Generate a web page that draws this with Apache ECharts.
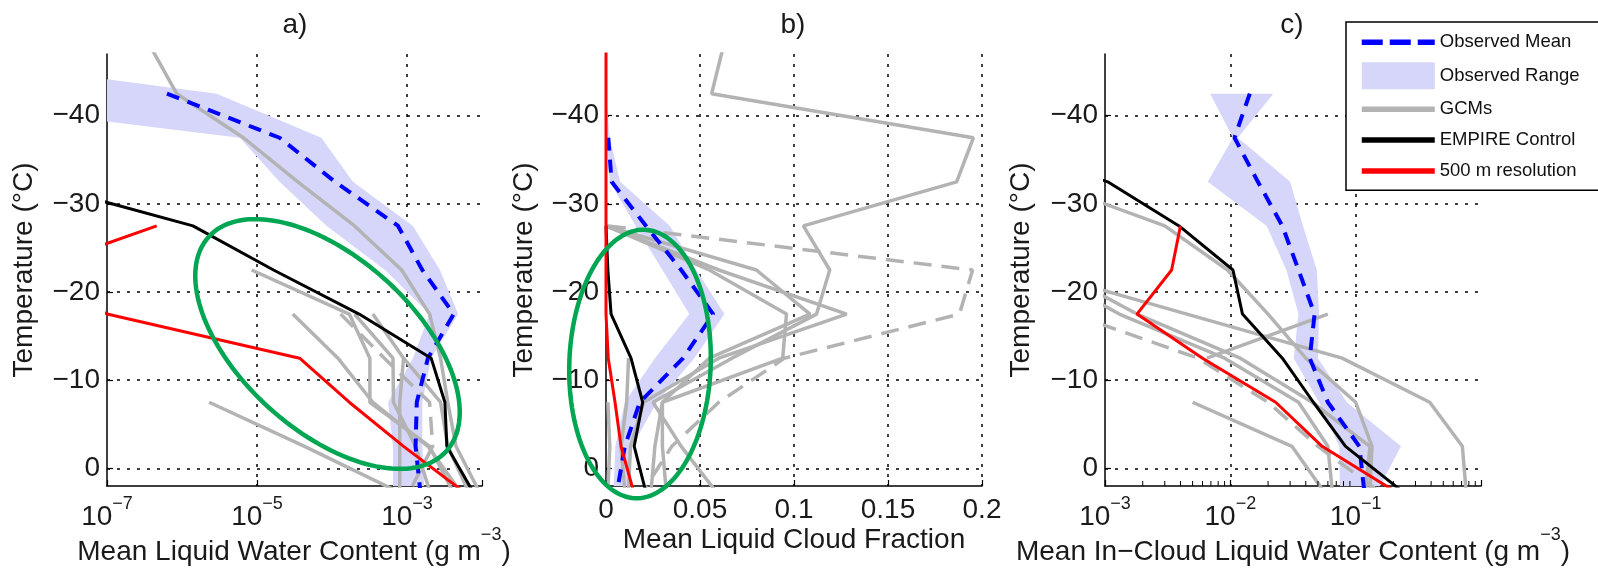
<!DOCTYPE html>
<html>
<head>
<meta charset="utf-8">
<script src="https://cdn.jsdelivr.net/npm/echarts@6/dist/echarts.min.js"></script>
<style>
html,body{margin:0;padding:0;background:#fff;}
#chart{width:1598px;height:574px;}
</style>
</head>
<body>
<div id="chart"></div>
<script>
// ---------------- DATA ----------------
// temperature bin centres (°C); every series below is listed at these levels
const TEMPS = [-47.5, -42.5, -37.5, -32.5, -27.5, -22.5, -17.5, -12.5, -7.5, -2.5, 2.5];

// a) Mean liquid water content (g m^-3)
const lwcObsMean = [null, 6.3e-7, 2.0e-5, 1.1e-4, 7.6e-4, 1.6e-3, 4.2e-3, 1.9e-3, 1.35e-3, 1.3e-3, 1.5e-3];
const lwcObsMin  = [1e-10, 1e-10, 5.9e-6, 2.0e-5, 8.5e-5, 5.1e-4, 2.0e-3, 1.2e-3, 5.6e-4, 6.5e-4, 6.5e-4];
const lwcObsMax  = [1e-10, 2.9e-6, 7.2e-5, 1.9e-4, 1.2e-3, 2.75e-3, 4.8e-3, 2.1e-3, 1.6e-3, 1.6e-3, 1.7e-3];
const lwcControl = [null, null, null, 1.0e-8, 1.4e-6, 1.66e-5, 2.3e-4, 2.1e-3, 3.2e-3, 3.4e-3, 7.4e-3];
const lwc500m    = [null, null, null, null, 4.6e-7, 1.0e-8, 1.0e-7, 3.7e-5, 1.7e-4, 9.0e-4, 5.4e-3];
const lwcGCMs = [
  [4e-7, 8.5e-7, 6.6e-6, 3.5e-5, 2.0e-4, 8.5e-4, 2.0e-3, 2.8e-3, 3.5e-3, 4.5e-3, 9.0e-3],
  [null, null, null, null, null, 8.5e-6, 1.7e-4, 3.2e-4, 3.2e-4, 2.0e-3, 4.0e-3],
  [null, null, null, null, null, null, 3.0e-5, 1.2e-4, 3.5e-4, 1.9e-3, 5.0e-3],
  [null, null, null, null, null, null, null, null, 2.3e-6, 4.3e-5, 7.0e-4],
  [null, null, null, null, null, null, 2.0e-4, 6.5e-4, 6.6e-4, 1.3e-3, 2.0e-3],
  [null, null, null, null, null, null, null, 9.0e-4, 8.0e-4, 8.0e-4, 8.0e-4],
  [null, null, null, null, null, null, 3.5e-4, 9.0e-4, 2.8e-3, 3.5e-3, 6.5e-3]
];
const lwcGCMDashed = [null, null, null, null, null, null, 1.3e-4, 5.0e-4, 2.0e-3, 2.2e-3, 1.1e-3];

// b) Mean liquid cloud fraction
const cfObsMean = [null, null, 0.0012, 0.003, 0.0213, 0.040, 0.057, 0.041, 0.018, 0.010, 0.006];
const cfObsMin  = [null, 0, 0.0005, 0.002, 0.0158, 0.030, 0.0443, 0.026, 0.010, 0.005, 0.004];
const cfObsMax  = [null, 0, 0.002, 0.0075, 0.034, 0.048, 0.063, 0.047, 0.027, 0.014, 0.012];
const cfControl = [null, null, null, null, 0.0, 0.001, 0.0027, 0.0133, 0.0195, 0.015, 0.021];
const cf500m    = [0, 0, 0, 0, 0, 0, 0, 0.0012, 0.0048, 0.008, 0.0145];
const cfGCMs = [
  [0.062, 0.0562, 0.1954, 0.1865, 0.105, 0.119, 0.112, 0.067, 0.025, 0.040, 0.058],
  [null, null, null, null, 0.0, 0.080, 0.1085, 0.055, 0.030, 0.030, 0.032],
  [null, null, null, null, 0.0, 0.055, 0.096, 0.094, 0.030, 0.026, 0.024],
  [null, null, null, null, 0.0, 0.060, 0.128, 0.060, 0.020, 0.013, 0.012],
  [null, null, null, null, null, null, null, 0.012, 0.011, 0.008, 0.010],
  [null, null, null, null, null, null, null, null, 0.001, 0.002, 0.001]
];
const cfGCMDashed = [null, null, null, null, 0.001, 0.195, 0.188, 0.095, 0.060, 0.035, 0.020];

// c) Mean in-cloud liquid water content (g m^-3)
const iclObsMean = [null, 0.0143, 0.0108, 0.0166, 0.026, 0.035, 0.047, 0.043, 0.060, 0.107, 0.117];
const iclObsMin  = [null, 0.0069, 0.0105, 0.0066, 0.0195, 0.028, 0.035, 0.032, 0.051, 0.074, 0.075];
const iclObsMax  = [null, 0.022, 0.0115, 0.030, 0.038, 0.049, 0.051, 0.050, 0.085, 0.23, 0.15];
const iclControl = [null, null, 0.0001, 0.00105, 0.0039, 0.0105, 0.0125, 0.026, 0.046, 0.083, 0.23];
const icl500m    = [null, null, null, null, 0.0040, 0.0034, 0.0018, 0.006, 0.023, 0.054, 0.20];
const iclGCMs = [
  [null, null, null, 0.00033, 0.003, 0.0095, 0.020, 0.040, 0.100, 0.135, 0.130],
  [null, null, null, null, null, 0.00026, 0.0045, 0.078, 0.39, 0.71, 0.76],
  [null, null, null, null, null, 0.0004, 0.0018, 0.012, 0.045, 0.13, 0.12],
  [null, null, null, null, null, 0.0003, 0.0013, 0.009, 0.035, 0.060, 0.065],
  [null, null, null, null, null, null, 0.060, 0.0065, null, null, null],
  [null, null, null, null, null, null, null, null, 0.005, 0.031, 0.055]
];
const iclGCMDashed = [null, null, null, null, null, null, 0.00055, 0.0055, 0.020, 0.050, 0.15];

// texts
const PANEL_TITLES = ['a)', 'b)', 'c)'];
const X_NAMES = ['Mean Liquid Water Content (g m', 'Mean Liquid Cloud Fraction', 'Mean In\u2212Cloud Liquid Water Content (g m'];
const Y_NAME = 'Temperature (\u00B0C)';
const LEGEND_NAMES = ['Observed Mean', 'Observed Range', 'GCMs', 'EMPIRE Control', '500 m resolution'];

// ---------------- STYLE ----------------
const FONT = "'Liberation Sans', Arial, Helvetica, sans-serif";
const TXT = '#1a1a1a';
const C_BLUE = '#0000ff', C_RANGE = '#d6d6fb', C_GRAY = '#b3b3b3', C_BLACK = '#000000', C_RED = '#ff0000', C_GREEN = '#00a651';
const GRID_LINE = {color: '#000', width: 1.5, type: [3, 7]};

const lg = v => Math.log10(v);
const ident = v => v;
const TF = [lg, ident, lg];

function pairs(vals, tf) {
  const out = [];
  vals.forEach((v, i) => { if (v !== null && v !== undefined) out.push([tf(v), TEMPS[i]]); });
  return out;
}
function lineSeries(name, vals, p, style, z) {
  return {
    type: 'line', name, xAxisIndex: p, yAxisIndex: p, data: pairs(vals, TF[p]),
    symbol: 'none', showSymbol: false, silent: true, clip: true, z,
    lineStyle: style, itemStyle: {color: style.color}, emphasis: {disabled: true}
  };
}
function clipPoly(pts, x0, y0, x1, y1) {
  const edges = [
    [p => p[0] >= x0, (a, b) => { const t = (x0 - a[0]) / (b[0] - a[0]); return [x0, a[1] + t * (b[1] - a[1])]; }],
    [p => p[0] <= x1, (a, b) => { const t = (x1 - a[0]) / (b[0] - a[0]); return [x1, a[1] + t * (b[1] - a[1])]; }],
    [p => p[1] >= y0, (a, b) => { const t = (y0 - a[1]) / (b[1] - a[1]); return [a[0] + t * (b[0] - a[0]), y0]; }],
    [p => p[1] <= y1, (a, b) => { const t = (y1 - a[1]) / (b[1] - a[1]); return [a[0] + t * (b[0] - a[0]), y1]; }]
  ];
  let out = pts;
  for (const [inside, inter] of edges) {
    const inp = out; out = [];
    if (!inp.length) break;
    for (let i = 0; i < inp.length; i++) {
      const cur = inp[i], prev = inp[(i + inp.length - 1) % inp.length];
      const ci = inside(cur), pi = inside(prev);
      if (ci) { if (!pi) out.push(inter(prev, cur)); out.push(cur); }
      else if (pi) out.push(inter(prev, cur));
    }
  }
  return out;
}
function bandSeries(lo, hi, p) {
  const tf = TF[p];
  const idx = TEMPS.map((t, i) => i).filter(i => lo[i] !== null && hi[i] !== null);
  return {
    type: 'custom', name: 'Observed Range', xAxisIndex: p, yAxisIndex: p, z: 1, silent: true,
    itemStyle: {color: C_RANGE},
    data: [[tf(hi[idx[0]]), TEMPS[idx[0]]]],
    renderItem: (params, api) => {
      const up = idx.map(i => api.coord([tf(hi[i]), TEMPS[i]]));
      const dn = idx.slice().reverse().map(i => api.coord([tf(lo[i]), TEMPS[i]]));
      const cs = params.coordSys;
      const pts = clipPoly(up.concat(dn), cs.x, cs.y, cs.x + cs.width, cs.y + cs.height);
      return {type: 'polygon', shape: {points: pts}, style: {fill: C_RANGE, stroke: null}};
    }
  };
}

const S_MEAN = {color: C_BLUE, width: 4, type: [13, 9]};
const S_GRAY = {color: C_GRAY, width: 3.5};
const S_GRAYD = {color: C_GRAY, width: 3.5, type: [18, 10]};
const S_BLACK = {color: C_BLACK, width: 3};
const S_RED = {color: C_RED, width: 3};

const panels = [
  {mean: lwcObsMean, lo: lwcObsMin, hi: lwcObsMax, ctl: lwcControl, r500: lwc500m, gcms: lwcGCMs, dashed: lwcGCMDashed},
  {mean: cfObsMean, lo: cfObsMin, hi: cfObsMax, ctl: cfControl, r500: cf500m, gcms: cfGCMs, dashed: cfGCMDashed},
  {mean: iclObsMean, lo: iclObsMin, hi: iclObsMax, ctl: iclControl, r500: icl500m, gcms: iclGCMs, dashed: iclGCMDashed}
];

const series = [];
panels.forEach((P, p) => {
  series.push(bandSeries(P.lo, P.hi, p));
  P.gcms.forEach(g => series.push(lineSeries('GCMs', g, p, S_GRAY, 2)));
  series.push(lineSeries('GCMs', P.dashed, p, S_GRAYD, 2));
  series.push(lineSeries('Observed Mean', P.mean, p, S_MEAN, 3));
  series.push(lineSeries('EMPIRE Control', P.ctl, p, S_BLACK, 4));
  series.push(lineSeries('500 m resolution', P.r500, p, S_RED, 5));
});

// log-axis minor ticks on panel c (2..9 x 10^n)
const minorC = [];
for (let n = -3; n <= -1; n++) for (let k = 2; k <= 9; k++) minorC.push([lg(k * Math.pow(10, n)), 2]);
series.push({
  type: 'custom', xAxisIndex: 2, yAxisIndex: 2, silent: true, z: 6, data: minorC,
  renderItem: (params, api) => {
    const pt = api.coord([api.value(0), api.value(1)]);
    return {type: 'line', shape: {x1: pt[0], y1: pt[1], x2: pt[0], y2: pt[1] - 5}, style: {stroke: '#000', lineWidth: 1}};
  }
});

// ---------------- AXES ----------------
const GRIDS = [
  {left: 107, top: 54, width: 375, height: 432},
  {left: 606, top: 54, width: 376, height: 432},
  {left: 1105, top: 54, width: 376, height: 432}
];
const supRich = {
  b: {fontSize: 28, fontFamily: FONT, color: TXT, lineHeight: 36, verticalAlign: 'bottom'},
  s: {fontSize: 18, fontFamily: FONT, color: TXT, lineHeight: 18, verticalAlign: 'top'}
};
const logFmt = (maxV) => v => (Math.abs(v - maxV) < 1e-9) ? '' : '{b|10}{s|\u2212' + Math.round(Math.abs(v)) + '}';
const axisLineS = {show: true, onZero: false, lineStyle: {color: '#000', width: 1.5}};
const tickS = {show: true, inside: true, length: 6, lineStyle: {color: '#000', width: 1.2}};

const xAxes = [
  {gridIndex: 0, type: 'value', min: -7, max: -2, interval: 2,
   axisLine: axisLineS, axisTick: tickS,
   axisLabel: {margin: 9, formatter: logFmt(-2), rich: supRich},
   splitLine: {show: true, showMinLine: false, showMaxLine: false, lineStyle: GRID_LINE}},
  {gridIndex: 1, type: 'value', min: 0, max: 0.2, interval: 0.05,
   axisLine: axisLineS, axisTick: tickS,
   axisLabel: {margin: 10, fontSize: 28, lineHeight: 28, fontFamily: FONT, color: TXT,
     formatter: v => String(Math.round(v * 100) / 100)},
   splitLine: {show: true, showMinLine: false, showMaxLine: true, lineStyle: GRID_LINE}},
  {gridIndex: 2, type: 'value', min: -3, max: 0, interval: 1,
   axisLine: axisLineS, axisTick: tickS,
   axisLabel: {margin: 9, formatter: logFmt(0), rich: supRich},
   splitLine: {show: true, showMinLine: false, showMaxLine: false, lineStyle: GRID_LINE}}
];
const yAxes = [0, 1, 2].map(p => ({
  gridIndex: p, type: 'value', min: -47, max: 2, inverse: true,
  axisLine: axisLineS, axisTick: tickS,
  axisLabel: {margin: 7, fontSize: 28, fontFamily: FONT, color: TXT, showMinLabel: false, showMaxLabel: false,
    formatter: v => v < 0 ? '\u2212' + Math.abs(v) : String(v)},
  splitLine: {show: true, showMinLine: false, showMaxLine: false, lineStyle: GRID_LINE}
}));

// ---------------- ANNOTATIONS ----------------
function ellipsePts(cx, cy, a, b, deg) {
  const th = deg * Math.PI / 180, pts = [];
  for (let i = 0; i < 144; i++) {
    const t = 2 * Math.PI * i / 144, x = a * Math.cos(t), y = b * Math.sin(t);
    pts.push([cx + x * Math.cos(th) - y * Math.sin(th), cy + x * Math.sin(th) + y * Math.cos(th)]);
  }
  return pts;
}
const textStyle = (extra) => Object.assign({fill: TXT, font: '28px ' + FONT, textAlign: 'center', textVerticalAlign: 'middle', align: 'center', verticalAlign: 'middle'}, extra);
const nameRich = {
  t: {fontSize: 28, fontFamily: FONT, fill: TXT, lineHeight: 40, verticalAlign: 'bottom'},
  s: {fontSize: 18, fontFamily: FONT, fill: TXT, lineHeight: 18, verticalAlign: 'top'}
};
const graphics = [];
const titleX = [295, 793, 1292];
PANEL_TITLES.forEach((t, i) => graphics.push({type: 'text', x: titleX[i], y: 25, z: 50, style: textStyle({text: t})}));
graphics.push({type: 'text', x: 294, y: 546, z: 50, style: textStyle({text: '{t|' + X_NAMES[0] + '}{s|\u22123}{t|)}', rich: nameRich})});
graphics.push({type: 'text', x: 794, y: 540, z: 50, style: textStyle({text: X_NAMES[1]})});
graphics.push({type: 'text', x: 1293, y: 546, z: 50, style: textStyle({text: '{t|' + X_NAMES[2] + '}{s|\u22123}{t|)}', rich: nameRich})});
[24, 524, 1021].forEach(x => graphics.push({type: 'text', x, y: 270, rotation: Math.PI / 2, z: 50, style: textStyle({text: Y_NAME})}));
graphics.push({type: 'polygon', z: 60, shape: {points: ellipsePts(327.5, 344, 160, 86.5, 42)}, style: {fill: null, stroke: C_GREEN, lineWidth: 4.5}});
graphics.push({type: 'polygon', z: 60, shape: {points: ellipsePts(640, 364, 70.7, 134.3, 2)}, style: {fill: null, stroke: C_GREEN, lineWidth: 4.5}});

const HIDE_SYMBOL = {opacity: 0, color: 'rgba(0,0,0,0)', borderWidth: 0};
const option = {
  animation: false,
  backgroundColor: '#fff',
  textStyle: {fontFamily: FONT},
  grid: GRIDS,
  xAxis: xAxes,
  yAxis: yAxes,
  legend: {
    orient: 'vertical', left: 1346, top: 22, z: 10,
    itemWidth: 73, itemHeight: 27, itemGap: 9.2,
    padding: [9.5, 20, 8.5, 13],
    borderColor: '#000', borderWidth: 1.5, backgroundColor: '#fff', borderRadius: 0,
    selectedMode: false,
    textStyle: {fontSize: 18.5, color: '#111', fontFamily: FONT},
    data: [
      {name: LEGEND_NAMES[0], lineStyle: {width: 5.5, type: [21, 7]}, itemStyle: HIDE_SYMBOL},
      {name: LEGEND_NAMES[1], icon: 'rect', itemStyle: {color: C_RANGE}},
      {name: LEGEND_NAMES[2], lineStyle: {width: 5.5}, itemStyle: HIDE_SYMBOL},
      {name: LEGEND_NAMES[3], lineStyle: {width: 5.5}, itemStyle: HIDE_SYMBOL},
      {name: LEGEND_NAMES[4], lineStyle: {width: 5.5}, itemStyle: HIDE_SYMBOL}
    ]
  },
  graphic: {elements: graphics},
  series
};

const chart = echarts.init(document.getElementById('chart'), null, {renderer: 'canvas'});
chart.setOption(option);
</script>
</body>
</html>
